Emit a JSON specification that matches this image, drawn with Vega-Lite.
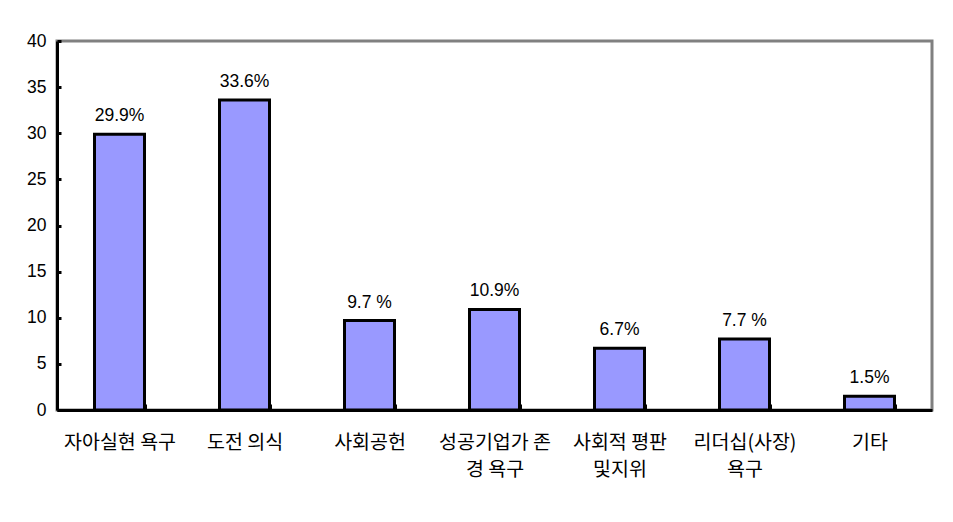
{
  "$schema": "https://vega.github.io/schema/vega-lite/v6.json",
  "autosize": {"type": "none"},
  "width": 875,
  "height": 369,
  "padding": {"left": 57, "top": 41, "right": 21, "bottom": 112},
  "background": "white",
  "config": {
    "view": {"stroke": "#808080", "strokeWidth": 3},
    "font": "Liberation Sans"
  },
  "data": {
    "values": [
      {"category": "자아실현 욕구", "value": 29.9, "label": "29.9%"},
      {"category": "도전 의식", "value": 33.6, "label": "33.6%"},
      {"category": "사회공헌", "value": 9.7, "label": "9.7 %"},
      {"category": "성공기업가 존경 욕구", "value": 10.9, "label": "10.9%"},
      {"category": "사회적 평판 및지위", "value": 6.7, "label": "6.7%"},
      {"category": "리더십(사장) 욕구", "value": 7.7, "label": "7.7 %"},
      {"category": "기타", "value": 1.5, "label": "1.5%"}
    ]
  },
  "encoding": {
    "x": {
      "field": "category",
      "type": "nominal",
      "sort": null,
      "scale": {"paddingInner": 0.6, "paddingOuter": 0.3},
      "axis": {
        "title": null,
        "labelAngle": 0,
        "tickBand": "extent",
        "domainColor": "black",
        "domainWidth": 3,
        "tickColor": "black",
        "tickWidth": 3,
        "tickSize": -6,
        "labelPadding": 29,
        "labelFont": "Noto Sans CJK KR",
        "labelFontSize": 19.5,
        "labelColor": "black",
        "labelLineHeight": 27,
        "labelBaseline": "top",
        "labelAlign": "center",
        "labelExpr": "datum.value == '성공기업가 존경 욕구' ? ['성공기업가 존', '경 욕구'] : datum.value == '사회적 평판 및지위' ? ['사회적 평판', '및지위'] : datum.value == '리더십(사장) 욕구' ? ['리더십(사장)', '욕구'] : datum.value"
      }
    },
    "y": {
      "field": "value",
      "type": "quantitative",
      "scale": {"domain": [0, 40], "nice": false},
      "axis": {
        "title": null,
        "values": [0, 5, 10, 15, 20, 25, 30, 35, 40],
        "grid": false,
        "domainColor": "black",
        "domainWidth": 3,
        "tickColor": "black",
        "tickWidth": 3,
        "tickSize": -4,
        "labelPadding": 15,
        "labelFontSize": 17.5,
        "labelColor": "black",
        "labelOverlap": false
      }
    }
  },
  "layer": [
    {
      "mark": {"type": "bar", "color": "#9999FF", "stroke": "black", "strokeWidth": 3}
    },
    {
      "mark": {"type": "text", "baseline": "bottom", "dy": -9, "fontSize": 17.5, "color": "black"},
      "encoding": {"text": {"field": "label"}}
    }
  ]
}
